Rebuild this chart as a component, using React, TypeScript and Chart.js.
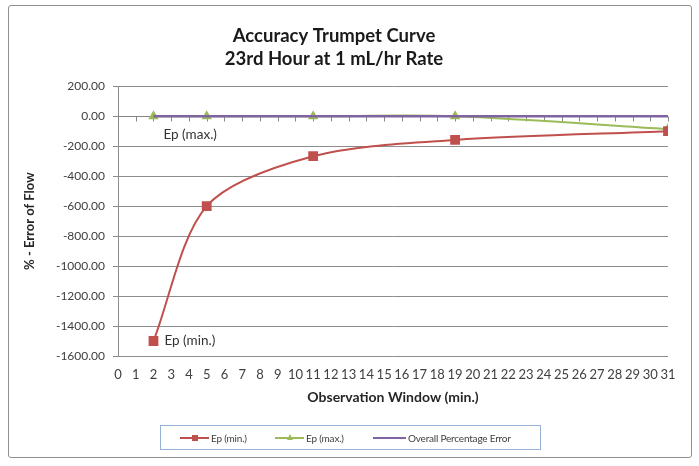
import React, { useEffect, useRef } from 'react';
import { Chart, registerables } from 'chart.js';

Chart.register(...registerables);

// ---- data ----
const xValues = [2, 5, 11, 19, 31];
const epMin = [-1500, -600, -267, -158, -100];
const epMax = [0, 0, 0, 0, -85];
const overallX = [2, 31];
const overallY = [0, 0];
const xTickValues = [0, 1, 2, 3, 4, 5, 6, 7, 8, 9, 10, 11, 12, 13, 14, 15, 16, 17, 18, 19, 20, 21, 22, 23, 24, 25, 26, 27, 28, 29, 30, 31];
const yTickValues = [200, 0, -200, -400, -600, -800, -1000, -1200, -1400, -1600];
const titleLines = ['Accuracy Trumpet Curve', '23rd Hour at 1 mL/hr Rate'];
const seriesNames = ['Ep (min.)', 'Ep (max.)', 'Overall Percentage Error'];

const RED = '#C0504D';
const GREEN = '#9BBB59';
const PURPLE = '#8064A2';
const FONT = 'Lato';

const zeroAxisPlugin = {
  id: 'zeroAxis',
  beforeDatasetsDraw(chart: any) {
    const { ctx, chartArea, scales } = chart;
    const x = scales.x;
    const y = scales.y;
    const y0 = Math.round(y.getPixelForValue(0)) + 0.5;
    ctx.save();
    ctx.strokeStyle = '#868686';
    ctx.lineWidth = 1;
    ctx.beginPath();
    ctx.moveTo(chartArea.left, y0);
    ctx.lineTo(chartArea.right, y0);
    for (const v of xTickValues) {
      const px = Math.round(x.getPixelForValue(v)) + 0.5;
      ctx.moveTo(px, y0);
      ctx.lineTo(px, y0 + 5);
    }
    ctx.stroke();
    ctx.restore();
  },
};

const pointLabelPlugin = {
  id: 'pointLabels',
  afterDatasetsDraw(chart: any) {
    const { ctx, scales } = chart;
    const x = scales.x;
    const y = scales.y;
    ctx.save();
    ctx.font = `13.5px ${FONT}`;
    ctx.fillStyle = '#333333';
    ctx.textAlign = 'left';
    ctx.textBaseline = 'middle';
    ctx.fillText(seriesNames[1], x.getPixelForValue(xValues[0]) + 10, y.getPixelForValue(epMax[0]) + 18);
    ctx.fillText(seriesNames[0], x.getPixelForValue(xValues[0]) + 11, y.getPixelForValue(epMin[0]));
    ctx.restore();
  },
};

function LegendItem({ color, marker, label, left, lineW }: any) {
  return (
    <div style={{ position: 'absolute', left, top: 0, height: 23, display: 'flex', alignItems: 'center' }}>
      <div style={{ position: 'relative', width: lineW, height: 10 }}>
        <div style={{ position: 'absolute', left: 0, right: 0, top: 4, height: 2, background: color }} />
        {marker === 'square' && (
          <div style={{ position: 'absolute', left: lineW / 2 - 3, top: 2, width: 6, height: 6, background: color }} />
        )}
        {marker === 'triangle' && (
          <div
            style={{
              position: 'absolute',
              left: lineW / 2 - 3,
              top: 1,
              width: 0,
              height: 0,
              borderLeft: '3px solid transparent',
              borderRight: '3px solid transparent',
              borderBottom: `6px solid ${color}`,
            }}
          />
        )}
      </div>
      <span style={{ fontFamily: FONT, fontSize: 10, color: '#404040', marginLeft: 2, whiteSpace: 'nowrap', letterSpacing: -0.2 }}>{label}</span>
    </div>
  );
}

export default function App() {
  const canvasRef = useRef<HTMLCanvasElement | null>(null);

  useEffect(() => {
    const canvas = canvasRef.current;
    if (!canvas) return;
    const chart = new Chart(canvas, {
      type: 'scatter',
      data: {
        datasets: [
          {
            label: seriesNames[0],
            data: xValues.map((x, i) => ({ x, y: epMin[i] })),
            showLine: true,
            borderColor: RED,
            backgroundColor: RED,
            borderWidth: 2,
            pointStyle: 'rect',
            pointRadius: 5.5,
            tension: 0.3,
            order: 1,
          },
          {
            label: seriesNames[1],
            data: xValues.map((x, i) => ({ x, y: epMax[i] })),
            showLine: true,
            borderColor: GREEN,
            backgroundColor: GREEN,
            borderWidth: 2,
            pointStyle: 'triangle',
            pointRadius: 4,
            tension: 0.3,
            order: 2,
          },
          {
            label: seriesNames[2],
            data: overallX.map((x, i) => ({ x, y: overallY[i] })),
            showLine: true,
            borderColor: PURPLE,
            backgroundColor: PURPLE,
            borderWidth: 2.5,
            pointRadius: 0,
            order: 0,
          },
        ],
      },
      options: {
        responsive: false,
        animation: false,
        devicePixelRatio: 1,
        layout: { padding: { left: 0, right: 31, top: 0, bottom: 56 } },
        plugins: {
          legend: { display: false },
          tooltip: { enabled: false },
          title: {
            display: true,
            text: titleLines,
            color: '#1a1a1a',
            font: { family: FONT, size: 18.5, weight: 'bold', lineHeight: 1.25 },
            padding: { top: 24, bottom: 16 },
          },
        },
        scales: {
          x: {
            type: 'linear',
            min: 0,
            max: 31,
            afterBuildTicks: (scale: any) => {
              scale.ticks = xTickValues.map((v) => ({ value: v }));
            },
            afterFit: (scale: any) => {
              scale.height = 54;
            },
            ticks: {
              autoSkip: false,
              maxRotation: 0,
              minRotation: 0,
              padding: 11,
              color: '#404040',
              font: { family: FONT, size: 13 },
              callback: (v: any) => String(v),
            },
            grid: { display: false, drawTicks: false },
            border: { display: false },
            title: {
              display: true,
              text: 'Observation Window (min.)',
              color: '#262626',
              font: { family: FONT, size: 14, weight: 'bold' },
              padding: { top: 0, bottom: 4 },
            },
          },
          y: {
            type: 'linear',
            min: -1600,
            max: 200,
            afterBuildTicks: (scale: any) => {
              scale.ticks = yTickValues.map((v) => ({ value: v }));
            },
            afterFit: (scale: any) => {
              scale.width = 118;
            },
            ticks: {
              padding: 8,
              color: '#404040',
              font: { family: FONT, size: 12 },
              callback: (v: any) => Number(v).toFixed(2),
            },
            grid: { color: '#8c8c8c', lineWidth: 1, tickLength: 5 },
            border: { color: '#8c8c8c' },
            title: {
              display: true,
              text: '% - Error of Flow',
              color: '#262626',
              font: { family: FONT, size: 13, weight: 'bold' },
              padding: { top: 22, bottom: 0 },
            },
          },
        },
      },
      plugins: [zeroAxisPlugin, pointLabelPlugin],
    } as any);
    return () => chart.destroy();
  }, []);

  return (
    <div style={{ position: 'absolute', left: 0, top: 0, width: 699, height: 466, background: '#fff' }}>
      <div
        style={{
          position: 'absolute',
          left: 8,
          top: 5,
          width: 682,
          height: 451,
          border: '1.5px solid #8f8f8f',
          borderRadius: 3,
        }}
      />
      <canvas ref={canvasRef} width={699} height={466} style={{ position: 'absolute', left: 0, top: 0 }} />
      <div
        style={{
          position: 'absolute',
          left: 160,
          top: 425,
          width: 379,
          height: 23,
          border: '1px solid #95B3D7',
        }}
      >
        <LegendItem color={RED} marker="square" label={seriesNames[0]} left={19} lineW={29} />
        <LegendItem color={GREEN} marker="triangle" label={seriesNames[1]} left={114} lineW={29} />
        <LegendItem color={PURPLE} marker="none" label={seriesNames[2]} left={212} lineW={33} />
      </div>
    </div>
  );
}
